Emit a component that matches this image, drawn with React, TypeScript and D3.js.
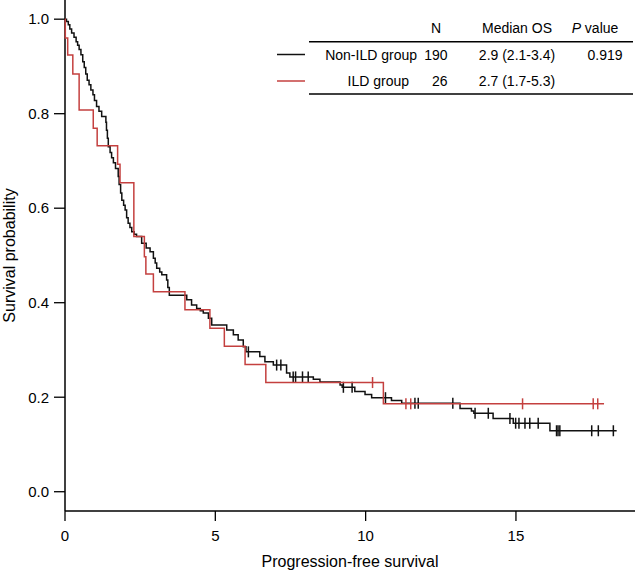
import * as d3 from 'd3'

const W = 635
const H = 571
const PLOT = { left: 65, right: 635, top: 0, bottom: 511 }
const FONT = '"Liberation Sans", Arial, Helvetica, sans-serif'

const X_TICKS = [0, 5, 10, 15]
const Y_TICKS = [0, 0.2, 0.4, 0.6, 0.8, 1.0]

// Non-ILD group (n = 190): step times and survival after each step
const nonIldTimes = [
  0, 0.05, 0.11, 0.16, 0.22, 0.3, 0.37, 0.42, 0.47, 0.53, 0.59, 0.64, 0.69, 0.74, 0.8, 0.86, 0.93, 0.98,
  1.05, 1.13, 1.22, 1.36, 1.38, 1.41, 1.44, 1.5, 1.55, 1.61, 1.68, 1.77, 1.8, 1.85, 1.89, 1.95, 2.0,
  2.05, 2.1, 2.16, 2.22, 2.3, 2.38, 2.55, 2.7, 2.83, 2.94, 3.0, 3.05, 3.15, 3.22, 3.38, 3.42, 3.47,
  4.05, 4.21, 4.38, 4.5, 4.6, 4.77, 4.88, 5.38, 5.6, 5.76, 5.93, 6.02, 6.48, 6.65, 6.93, 7.37, 7.48,
  8.26, 8.48, 9.15, 9.22, 9.64, 9.98, 10.2, 10.86, 11.2, 13.14, 13.52, 13.6, 14.24, 14.91, 16.13, 18.35,
]
const nonIldSurv = [
  1.0, 0.995, 0.988, 0.979, 0.971, 0.962, 0.952, 0.945, 0.936, 0.925, 0.91, 0.898, 0.884, 0.871, 0.861,
  0.85, 0.84, 0.828, 0.815, 0.805, 0.794, 0.782, 0.765, 0.748, 0.73, 0.718, 0.707, 0.696, 0.684, 0.667,
  0.65, 0.632, 0.617, 0.606, 0.596, 0.58, 0.568, 0.559, 0.55, 0.545, 0.54, 0.526, 0.516, 0.508, 0.494,
  0.484, 0.473, 0.465, 0.459, 0.448, 0.432, 0.416, 0.406, 0.395, 0.388, 0.383, 0.378, 0.367, 0.353,
  0.342, 0.332, 0.321, 0.307, 0.296, 0.286, 0.275, 0.268, 0.251, 0.243, 0.238, 0.232, 0.226, 0.221,
  0.212, 0.206, 0.199, 0.193, 0.187, 0.176, 0.171, 0.166, 0.155, 0.145, 0.129, 0.129,
]
const nonIldCensor = [
  6.1, 7.04, 7.18, 7.59, 7.67, 7.9, 8.09, 9.26, 9.55, 10.66, 11.64, 11.75, 12.9, 13.64, 14.08, 14.8,
  14.99, 15.1, 15.3, 15.46, 15.74, 16.35, 16.4, 16.46, 17.52, 17.74, 18.24,
]

// ILD group (n = 26)
const ildTimes = [
  0, 0.01, 0.09, 0.26, 0.47, 0.94, 1.07, 1.75, 1.83, 2.29, 2.64, 2.69, 2.94, 3.99, 4.82, 5.3, 5.99,
  6.68, 10.59, 17.93,
]
const ildSurv = [
  1.0, 0.96, 0.924, 0.884, 0.808, 0.769, 0.732, 0.693, 0.654, 0.54, 0.497, 0.461, 0.423, 0.385, 0.346,
  0.308, 0.269, 0.231, 0.186, 0.186,
]
const ildCensor = [10.23, 11.34, 11.5, 15.22, 17.57, 17.72]

// legend table
const LEGEND_HEAD = ['N', 'Median OS']
const groups = ['Non-ILD group', 'ILD group']
const groupN = ['190', '26']
const groupMedian = ['2.9 (2.1-3.4)', '2.7 (1.7-5.3)']
const groupP = ['0.919', '']
const groupColor = ['#111111', '#c4403f']

const x = d3.scaleLinear().domain([0, 18.96]).range([PLOT.left, PLOT.right])
const y = d3.scaleLinear().domain([-0.0408, 1.0406]).range([PLOT.bottom, PLOT.top])

function survAt(times: number[], surv: number[], t: number) {
  const i = d3.bisectRight(times, t) - 1
  return surv[Math.max(0, i)]
}

function KmCurve({ times, surv, censor, color }: { times: number[]; surv: number[]; censor: number[]; color: string }) {
  const line = d3
    .line<number>()
    .x((t) => x(t))
    .y((_t, i) => y(surv[i]))
    .curve(d3.curveStepAfter)
  return (
    <g>
      <path d={line(times) ?? ''} fill="none" stroke={color} strokeWidth={1.5} />
      {censor.map((t, i) => {
        const cy = y(survAt(times, surv, t))
        return <line key={i} x1={x(t)} x2={x(t)} y1={cy - 5.5} y2={cy + 5.5} stroke={color} strokeWidth={1.5} />
      })}
    </g>
  )
}

export default function App() {
  const rowY = [54.5, 81]
  const nameEnd = [417, 409]
  return (
    <svg
      width={W}
      height={H}
      style={{ position: 'absolute', left: 0, top: 0, display: 'block', background: '#fff' }}
      fontFamily={FONT}
    >
      {/* axes */}
      <line x1={PLOT.left} x2={PLOT.left} y1={PLOT.top} y2={PLOT.bottom} stroke="#000" strokeWidth={1.5} />
      <line x1={PLOT.left} x2={PLOT.right} y1={PLOT.bottom} y2={PLOT.bottom} stroke="#000" strokeWidth={1.5} />
      {Y_TICKS.map((v) => (
        <g key={v}>
          <line x1={PLOT.left - 11} x2={PLOT.left} y1={y(v)} y2={y(v)} stroke="#000" strokeWidth={1.3} />
          <text x={PLOT.left - 16} y={y(v) + 5.3} textAnchor="end" fontSize={15}>
            {d3.format('.1f')(v)}
          </text>
        </g>
      ))}
      {X_TICKS.map((t) => (
        <g key={t}>
          <line x1={x(t)} x2={x(t)} y1={PLOT.bottom} y2={PLOT.bottom + 10} stroke="#000" strokeWidth={1.3} />
          <text x={x(t)} y={540.5} textAnchor="middle" fontSize={15}>
            {t}
          </text>
        </g>
      ))}
      <text x={(PLOT.left + PLOT.right) / 2} y={567} textAnchor="middle" fontSize={16}>
        Progression-free survival
      </text>
      <text transform={`translate(15,${(PLOT.top + PLOT.bottom) / 2}) rotate(-90)`} textAnchor="middle" fontSize={16}>
        Survival probability
      </text>

      {/* curves */}
      <KmCurve times={nonIldTimes} surv={nonIldSurv} censor={nonIldCensor} color={groupColor[0]} />
      <KmCurve times={ildTimes} surv={ildSurv} censor={ildCensor} color={groupColor[1]} />

      {/* legend table */}
      <g fontSize={14}>
        <text x={436} y={33} textAnchor="middle">{LEGEND_HEAD[0]}</text>
        <text x={517} y={33} textAnchor="middle">{LEGEND_HEAD[1]}</text>
        <text x={595} y={33} textAnchor="middle">
          <tspan fontStyle="italic">P</tspan> value
        </text>
        <line x1={309} x2={633} y1={41.7} y2={41.7} stroke="#000" strokeWidth={1.5} />
        {groups.map((g, i) => (
          <g key={g}>
            <line x1={277} x2={305} y1={rowY[i]} y2={rowY[i]} stroke={groupColor[i]} strokeWidth={1.5} />
            <text x={nameEnd[i]} y={rowY[i] + 5} textAnchor="end">{g}</text>
            <text x={447.5} y={rowY[i] + 5} textAnchor="end">{groupN[i]}</text>
            <text x={517} y={rowY[i] + 5} textAnchor="middle">{groupMedian[i]}</text>
            <text x={605} y={rowY[i] + 5} textAnchor="middle">{groupP[i]}</text>
          </g>
        ))}
        <line x1={309} x2={633} y1={94} y2={94} stroke="#000" strokeWidth={1.5} />
      </g>
    </svg>
  )
}
